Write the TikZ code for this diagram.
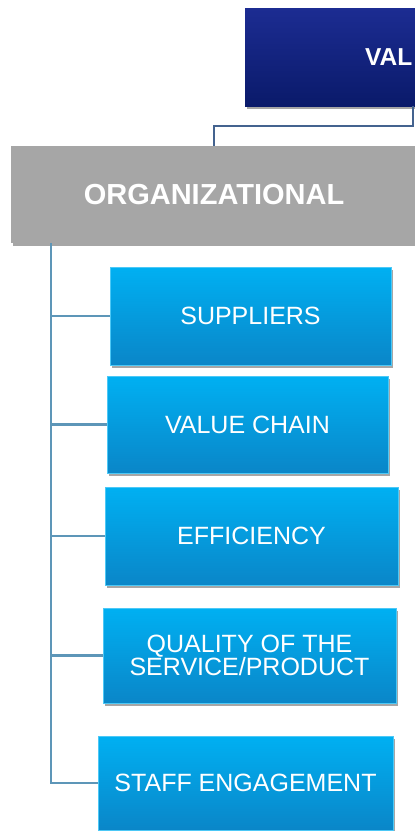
\documentclass[tikz,border=0pt]{standalone}
\usepackage{fontspec}
\setmainfont{Liberation Sans}
\usetikzlibrary{shadows}
\definecolor{navytop}{HTML}{1C2C92}
\definecolor{navybot}{HTML}{0A1A6A}
\definecolor{orggray}{HTML}{A6A6A6}
\definecolor{bluetop}{HTML}{00B0F2}
\definecolor{bluebot}{HTML}{0A86C8}
\definecolor{topconn}{HTML}{44638F}
\definecolor{trunkc}{HTML}{5D96B8}
\tikzset{
  boxshadow/.style={drop shadow={shadow xshift=2pt, shadow yshift=-2.5pt, opacity=0.35, fill=black}},
  navybox/.style={boxshadow, shading=axis, top color=navytop, bottom color=navybot, draw=none,
    text=white, font=\bfseries\fontsize{24.5}{28}\selectfont, minimum height=98pt, inner ysep=0pt,
    inner xsep=120pt, text width=150pt, align=left},
  graybox/.style={boxshadow, fill=orggray, draw=none, text=white,
    font=\bfseries\fontsize{29}{31}\selectfont, minimum height=97pt, minimum width=406pt, inner sep=0pt},
  bluebox/.style={boxshadow, shading=axis, top color=bluetop, bottom color=bluebot,
    draw=bluetop!70!white, line width=0.5pt, text=white,
    font=\fontsize{25}{23}\selectfont, align=center, inner sep=0pt},
  topline/.style={draw=topconn, line width=1.6pt},
  trunkline/.style={draw=trunkc, line width=2.4pt},
}
\begin{document}
\begin{tikzpicture}[x=1pt,y=-1pt]
\clip (0,0) rectangle (415,831);
\fill[white] (0,0) rectangle (415,831);
% top box
\node[navybox, anchor=west] (top) at (245,57) {VAL};
% organizational box
\node[graybox] (org) at (214,194.5) {ORGANIZATIONAL};
% blue boxes
\node[bluebox, minimum width=281pt, minimum height=98pt] (b1) at (250.5,316) {SUPPLIERS};
\node[bluebox, minimum width=281pt, minimum height=97pt] (b2) at (247.5,424.5) {VALUE CHAIN};
\node[bluebox, minimum width=293pt, minimum height=98pt] (b3) at (251.5,536) {EFFICIENCY};
\node[bluebox, minimum width=293pt, minimum height=95pt] (b4) at (249.5,655.5) {QUALITY OF THE\\SERVICE/PRODUCT};
\node[bluebox, minimum width=295pt, minimum height=94pt] (b5) at (245.5,783) {STAFF ENGAGEMENT};
% connectors
\coordinate (tdrop) at ([xshift=168pt]top.south west);
\draw[topline] (tdrop) -- ++(0,20) -| (org.north);
\coordinate (trunk) at ([xshift=40pt]org.south west);
\draw[trunkline] (trunk) |- (b5.west);
\draw[trunkline] (trunk) |- (b1.west);
\draw[trunkline] (trunk) |- (b2.west);
\draw[trunkline] (trunk) |- (b3.west);
\draw[trunkline] (trunk) |- (b4.west);
\end{tikzpicture}
\end{document}
